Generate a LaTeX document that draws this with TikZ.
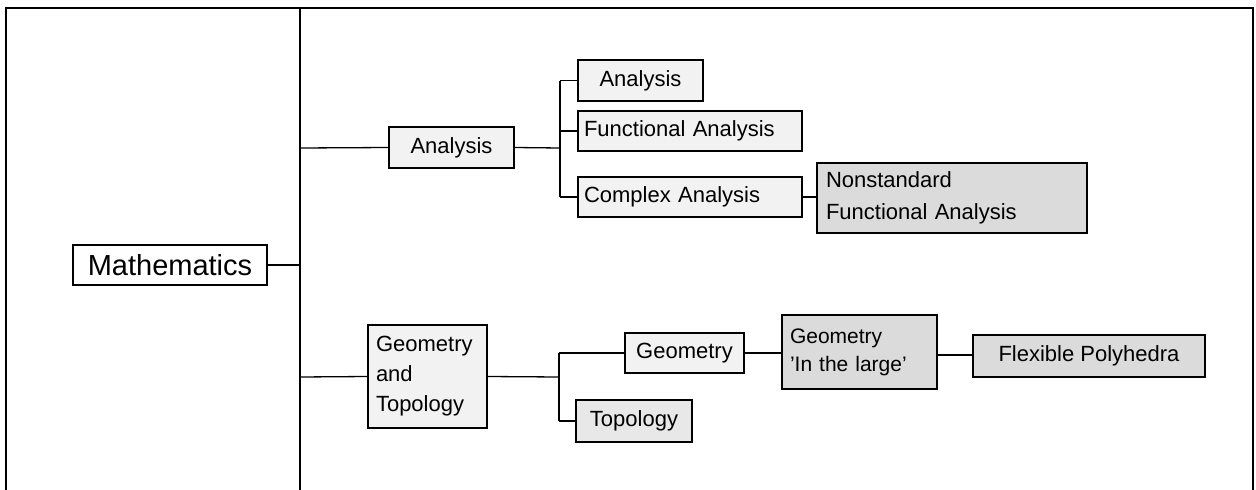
\documentclass[tikz,border=0pt]{standalone}
\usepackage{fontspec}
\setmainfont{Liberation Sans}
\begin{document}
\begin{tikzpicture}[x=1pt,y=-1pt,
  frameline/.style={line width=1.5pt, black},
  conn/.style={line width=1.3pt, black},
  box/.style={draw=black, line width=1.4pt, inner sep=0pt, fill=gray!10,
    font=\fontsize{22}{26}\selectfont},
  darkbox/.style={box, fill=gray!28},
  midbox/.style={box, fill=gray!18},
  whitebox/.style={draw=black, line width=1.4pt, inner sep=0pt, fill=white,
    font=\fontsize{29}{32}\selectfont}]
\useasboundingbox (0,0) rectangle (1256,490);
% frame
\draw[frameline] (6,490) -- (6,8) -- (1253,8) -- (1253,490);
\draw[frameline] (300,8) -- (300,490);
% nodes
\node[whitebox, minimum width=194pt, minimum height=40pt] (math) at (170,265) {Mathematics};
\node[box, minimum width=125pt, minimum height=41pt] (anaA) at (451.5,147.5) {Analysis};
\node[box, minimum width=125pt, minimum height=41pt] (anaB) at (640.5,80.5) {Analysis};
\node[box, minimum width=224pt, minimum height=40pt, text width=212pt, align=left] (func) at (690,131) {Functional Analysis};
\node[box, minimum width=224pt, minimum height=40pt, text width=212pt, align=left] (cplx) at (690,197) {Complex Analysis};
\node[darkbox, minimum width=270pt, minimum height=70pt, text width=252pt, align=left,
  font=\fontsize{22}{32}\selectfont] (nonst) at (952,198) {Nonstandard\\Functional Analysis};
\node[box, minimum width=119pt, minimum height=103pt, text width=103pt, align=left,
  font=\fontsize{22}{30}\selectfont] (gt) at (427.5,376.5) {Geometry\\and\\Topology};
\node[box, minimum width=119pt, minimum height=40pt] (geo) at (684.5,353) {Geometry};
\node[midbox, minimum width=116pt, minimum height=42pt] (topo) at (634,421) {Topology};
\node[darkbox, minimum width=155pt, minimum height=74pt, text width=139pt, align=left,
  font=\fontsize{21}{28}\selectfont] (large) at (859.5,352) {Geometry\\'In the large'};
\node[darkbox, minimum width=232pt, minimum height=42pt] (flex) at (1089,356) {Flexible Polyhedra};
% junction coordinates
\coordinate (dm) at (300,265);
\coordinate (da) at (300,148);
\coordinate (dg) at (300,377);
\coordinate (ja) at (560,148);
\coordinate (jg) at (559,377);
% connectors
\draw[conn] (math.east) -- (dm);
\draw[conn] (da) -- (anaA.west);
\draw[conn] (dg) -- (gt.west);
\draw[conn] (anaA.east) -- (ja);
\draw[conn] (ja |- anaB.west) -- (ja |- cplx.west);
\draw[conn] (ja |- anaB.west) -- (anaB.west);
\draw[conn] (ja |- func.west) -- (func.west);
\draw[conn] (ja |- cplx.west) -- (cplx.west);
\draw[conn] (cplx.east) -- (cplx.east -| nonst.west);
\draw[conn] (gt.east) -- (jg);
\draw[conn] (jg |- geo.west) -- (jg |- topo.west);
\draw[conn] (jg |- geo.west) -- (geo.west);
\draw[conn] (jg |- topo.west) -- (topo.west);
\draw[conn] (geo.east) -- (geo.east -| large.west);
\draw[conn] (large.east |- 0,355) -- (flex.west |- 0,355);
\end{tikzpicture}
\end{document}
